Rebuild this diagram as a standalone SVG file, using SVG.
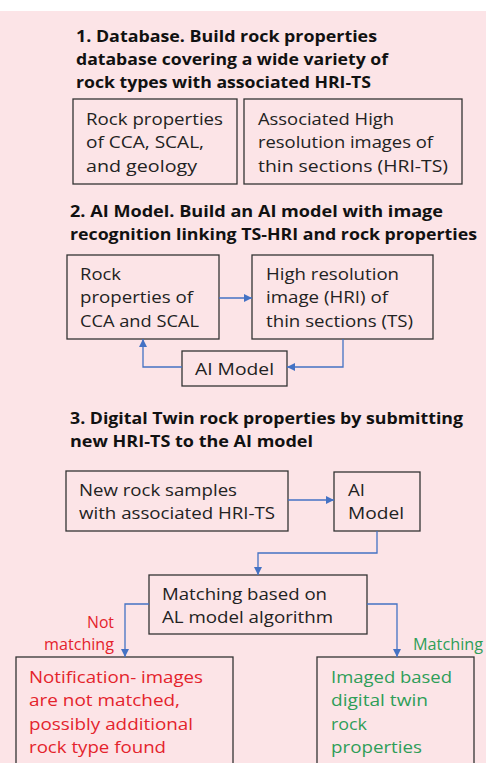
<svg xmlns="http://www.w3.org/2000/svg" width="486" height="763" viewBox="0 0 486 763">
<defs>
<marker id="ah" viewBox="0 0 10 10" refX="10" refY="5" markerWidth="8" markerHeight="8" markerUnits="userSpaceOnUse" orient="auto">
<path d="M0,0 L10,5 L0,10 z" fill="#4472c4"/>
</marker>
<style>
.bg{fill:#fce4e7}
.box{fill:none;stroke:#333;stroke-width:1.3}
.t{font-family:"Open Sans","Liberation Sans",sans-serif;font-size:16.5px;fill:#222}
.h{font-family:"Open Sans","Liberation Sans",sans-serif;font-size:16px;font-weight:bold;fill:#111}
.red{fill:#e4232c}
.grn{fill:#2e9e58}
.c{fill:none;stroke:#4472c4;stroke-width:1.3;marker-end:url(#ah)}
</style>
</defs>
<rect class="bg" x="0" y="11" width="486" height="752"/>

<g id="title1">
<text class="h" x="76" y="41.5" textLength="301" lengthAdjust="spacingAndGlyphs">1. Database. Build rock properties</text>
<text class="h" x="76" y="64.5" textLength="312" lengthAdjust="spacingAndGlyphs">database covering a wide variety of</text>
<text class="h" x="76" y="87.5" textLength="295" lengthAdjust="spacingAndGlyphs">rock types with associated HRI-TS</text>
</g>
<g id="db-rock">
<rect class="box" x="73" y="99" width="164" height="85"/>
<text class="t" x="86" y="124.5" textLength="137" lengthAdjust="spacingAndGlyphs">Rock properties</text>
<text class="t" x="86" y="148" textLength="118" lengthAdjust="spacingAndGlyphs">of CCA, SCAL,</text>
<text class="t" x="86" y="171.5" textLength="111" lengthAdjust="spacingAndGlyphs">and geology</text>
</g>
<g id="db-images">
<rect class="box" x="244" y="99" width="218" height="85"/>
<text class="t" x="258" y="124.5" textLength="136" lengthAdjust="spacingAndGlyphs">Associated High</text>
<text class="t" x="258" y="148" textLength="175" lengthAdjust="spacingAndGlyphs">resolution images of</text>
<text class="t" x="258" y="171.5" textLength="190" lengthAdjust="spacingAndGlyphs">thin sections (HRI-TS)</text>
</g>

<g id="title2">
<text class="h" x="70" y="216.5" textLength="373" lengthAdjust="spacingAndGlyphs">2. AI Model. Build an AI model with image</text>
<text class="h" x="70" y="239.5" textLength="407" lengthAdjust="spacingAndGlyphs">recognition linking TS-HRI and rock properties</text>
</g>
<g id="ai-rock">
<rect class="box" x="67" y="255" width="152" height="84"/>
<text class="t" x="80" y="279.5" textLength="41" lengthAdjust="spacingAndGlyphs">Rock</text>
<text class="t" x="80" y="303" textLength="113" lengthAdjust="spacingAndGlyphs">properties of</text>
<text class="t" x="80" y="327" textLength="119" lengthAdjust="spacingAndGlyphs">CCA and SCAL</text>
</g>
<g id="ai-hri">
<rect class="box" x="252" y="255" width="181" height="84"/>
<text class="t" x="266" y="279.5" textLength="133" lengthAdjust="spacingAndGlyphs">High resolution</text>
<text class="t" x="266" y="303" textLength="122" lengthAdjust="spacingAndGlyphs">image (HRI) of</text>
<text class="t" x="266" y="327" textLength="147" lengthAdjust="spacingAndGlyphs">thin sections (TS)</text>
</g>
<g id="ai-model">
<rect class="box" x="182" y="351" width="105" height="35"/>
<text class="t" x="195" y="375" textLength="79" lengthAdjust="spacingAndGlyphs">AI Model</text>
</g>

<g id="title3">
<text class="h" x="70" y="423.5" textLength="393" lengthAdjust="spacingAndGlyphs">3. Digital Twin rock properties by submitting</text>
<text class="h" x="70" y="446.5" textLength="243" lengthAdjust="spacingAndGlyphs">new HRI-TS to the AI model</text>
</g>
<g id="new-samples">
<rect class="box" x="66" y="471" width="222" height="60"/>
<text class="t" x="79" y="495.5" textLength="158" lengthAdjust="spacingAndGlyphs">New rock samples</text>
<text class="t" x="79" y="519" textLength="196" lengthAdjust="spacingAndGlyphs">with associated HRI-TS</text>
</g>
<g id="ai-model-2">
<rect class="box" x="334" y="472" width="86" height="59"/>
<text class="t" x="348" y="495.5" textLength="17" lengthAdjust="spacingAndGlyphs">AI</text>
<text class="t" x="348" y="519" textLength="56" lengthAdjust="spacingAndGlyphs">Model</text>
</g>
<g id="matching">
<rect class="box" x="149" y="575" width="218" height="59"/>
<text class="t" x="162" y="599.5" textLength="165" lengthAdjust="spacingAndGlyphs">Matching based on</text>
<text class="t" x="162" y="623" textLength="171" lengthAdjust="spacingAndGlyphs">AL model algorithm</text>
</g>
<g id="not-matched">
<rect class="box" x="16" y="657" width="217" height="115"/>
<text class="t red" x="29" y="682.5" textLength="174" lengthAdjust="spacingAndGlyphs">Notification- images</text>
<text class="t red" x="29" y="706" textLength="151" lengthAdjust="spacingAndGlyphs">are not matched,</text>
<text class="t red" x="29" y="729.5" textLength="164" lengthAdjust="spacingAndGlyphs">possibly additional</text>
<text class="t red" x="29" y="753" textLength="137" lengthAdjust="spacingAndGlyphs">rock type found</text>
</g>
<g id="digital-twin">
<rect class="box" x="317" y="657" width="157" height="115"/>
<text class="t grn" x="331" y="682.5" textLength="121" lengthAdjust="spacingAndGlyphs">Imaged based</text>
<text class="t grn" x="331" y="706" textLength="97" lengthAdjust="spacingAndGlyphs">digital twin</text>
<text class="t grn" x="331" y="729.5" textLength="36" lengthAdjust="spacingAndGlyphs">rock</text>
<text class="t grn" x="331" y="753" textLength="91" lengthAdjust="spacingAndGlyphs">properties</text>
</g>

<g id="connectors">
<path class="c" d="M219,298 L252,298"/>
<path class="c" d="M343,339 L343,367 L287,367"/>
<path class="c" d="M182,367 L143,367 L143,339"/>
<path class="c" d="M288,500 L334,500"/>
<path class="c" d="M377,531 L377,553 L258,553 L258,575"/>
<path class="c" d="M149,604 L125,604 L125,657"/>
<path class="c" d="M367,604 L397,604 L397,657"/>
<text class="t red" x="114" y="627.5" text-anchor="end" textLength="27" lengthAdjust="spacingAndGlyphs">Not</text>
<text class="t red" x="114" y="650" text-anchor="end" textLength="70" lengthAdjust="spacingAndGlyphs">matching</text>
<text class="t grn" x="413" y="650" textLength="70" lengthAdjust="spacingAndGlyphs">Matching</text>
</g>
</svg>
